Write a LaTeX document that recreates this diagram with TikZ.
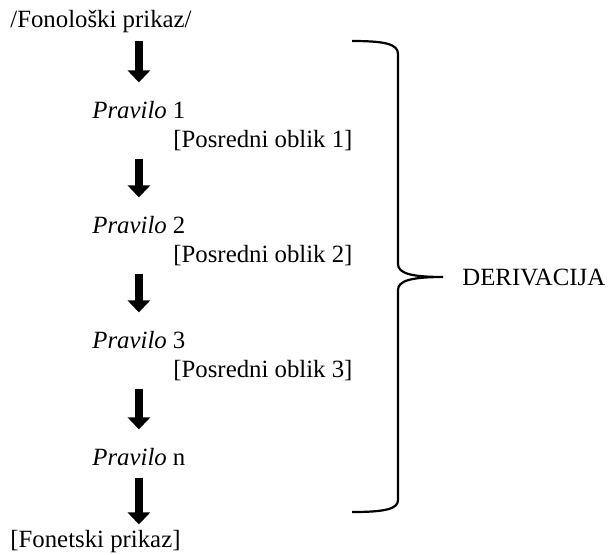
\documentclass[tikz,border=0pt]{standalone}
\usepackage{fontspec}
\setmainfont{Liberation Serif}
\usetikzlibrary{arrows.meta}
\tikzset{
	every node/.style = {font=\fontsize{12.4}{15}\selectfont, inner sep=0pt, anchor=base west},
	bigarrow/.style = {line width=4pt, -{Triangle[width=11pt,length=6pt]}},
	bracket/.style = {line width=1.1pt}
}

\begin{document}
\begin{tikzpicture}[x=0.5pt, y=-0.5pt]
	\useasboundingbox (0,0) rectangle (610,554);
	% forms
	\node (fon) at (10,27) {/Fonološki prikaz/};
	\foreach \i in {1,2,3} {
		\node (p\i) at (92,3+115*\i) {\textit{Pravilo} \i};
		\node (o\i) at (173,32+115*\i) {[Posredni oblik \i]};
	}
	\node (pn) at (92,465) {\textit{Pravilo} n};
	\node (fet) at (10,547) {[Fonetski prikaz]};
	% arrows
	\foreach \a/\b in {fon/p1, o1/p2, o2/p3, o3/pn}
		\draw[bigarrow, shorten <=4pt, shorten >=9pt] (\a.south -| \b.north) -- (\b.north);
	\draw[bigarrow, shorten <=6pt, shorten >=2.5pt] (pn.south) -- (fet.north -| pn.south);
	% brace
	\node (der) at (462,285) {DERIVACIJA};
	\coordinate (btop) at (352,41);
	\coordinate (bbot) at (352,512);
	\coordinate (btip) at ([xshift=-9.5pt]der.west);
	\draw[bracket] (btop) .. controls (385,41) and (398,44) .. (398,54) -- (398,264)
		.. controls (398,273) and (410,277) .. (btip)
		.. controls (410,277) and (398,281) .. (398,290) -- (398,500)
		.. controls (398,509) and (385,512) .. (bbot);
\end{tikzpicture}
\end{document}
